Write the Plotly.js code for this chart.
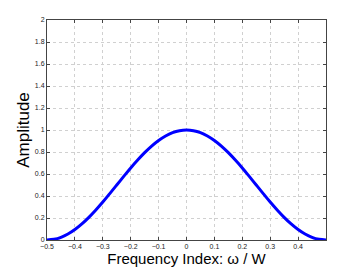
<!DOCTYPE html>
<html><head><meta charset="utf-8">
<script src="https://cdn.plot.ly/plotly-3.0.1.min.js"></script>
<style>html,body{margin:0;padding:0;background:#fff}#chart{width:360px;height:271px}</style>
</head><body><div id="chart"></div>
<script>
const freq = [-0.5,-0.475,-0.45,-0.425,-0.4,-0.375,-0.35,-0.325,-0.3,-0.275,-0.25,-0.225,-0.2,-0.175,-0.15,-0.125,-0.1,-0.075,-0.05,-0.025,0,
  0.025,0.05,0.075,0.1,0.125,0.15,0.175,0.2,0.225,0.25,0.275,0.3,0.325,0.35,0.375,0.4,0.425,0.45,0.475,0.5];
const amplitude = [0,0.006,0.024,0.054,0.095,0.146,0.206,0.273,0.345,0.422,0.5,0.578,0.655,0.727,0.794,0.854,0.905,0.946,0.976,0.994,1,
  0.994,0.976,0.946,0.905,0.854,0.794,0.727,0.655,0.578,0.5,0.422,0.345,0.273,0.206,0.146,0.095,0.054,0.024,0.006,0];
const xTicks = [-0.5,-0.4,-0.3,-0.2,-0.1,0,0.1,0.2,0.3,0.4];
const yTicks = [0,0.2,0.4,0.6,0.8,1,1.2,1.4,1.6,1.8,2];

const axisCommon = {
  showline:true, linecolor:'#444', linewidth:1, mirror:'allticks',
  ticks:'inside', ticklen:3, tickcolor:'#444',
  showgrid:true, gridcolor:'#d0d0d0', griddash:'dot', gridwidth:1,
  zeroline:false, tickfont:{family:'Liberation Sans, Arial, sans-serif', size:7, color:'#222'}
};
Plotly.newPlot('chart', [{
  x: freq, y: amplitude, type:'scatter', mode:'lines',
  line:{color:'#0000ff', width:3, shape:'spline'}
}], {
  width:360, height:271,
  margin:{l:47, r:34, t:20, b:31},
  paper_bgcolor:'#fff', plot_bgcolor:'#fff',
  showlegend:false,
  xaxis: Object.assign({}, axisCommon, {
    range:[-0.5,0.5], tickvals:xTicks, ticktext:xTicks.map(v=>v===0?'0':String(v).replace('-','\u2212')),
    title:{text:'Frequency Index: ω / W', font:{family:'Liberation Sans, Arial, sans-serif', size:15, color:'#000'}, standoff:3}
  }),
  yaxis: Object.assign({}, axisCommon, {
    range:[0,2], tickvals:yTicks, ticktext:yTicks.map(String),
    title:{text:'Amplitude', font:{family:'Liberation Sans, Arial, sans-serif', size:17, color:'#000'}, standoff:0}
  })
}, {staticPlot:true, displayModeBar:false});
</script></body></html>
